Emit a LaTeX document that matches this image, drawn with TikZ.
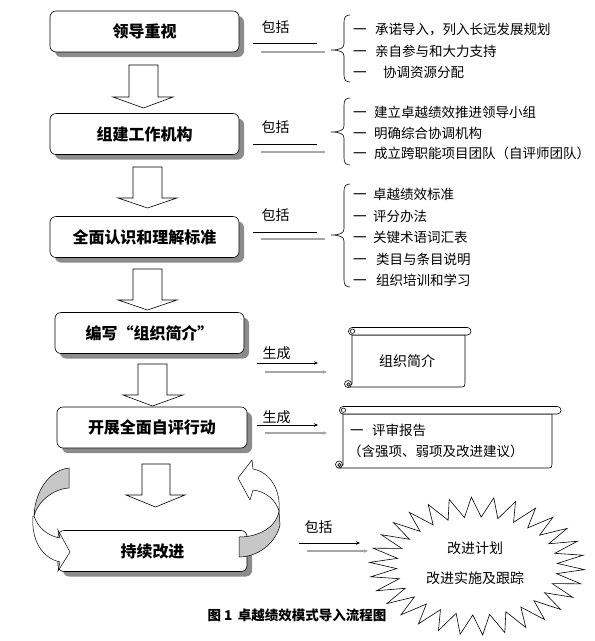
\documentclass[tikz,border=0pt]{standalone}
\usepackage{fontspec}
\newfontfamily\cjk{Noto Sans CJK SC}
\usetikzlibrary{shadows,arrows.meta}
\newcommand\bracepath[3]{%
  \draw[line width=0.6pt] (350,#1) .. controls (346,#1) and (344,#1+2) .. (344,#1+7)
    -- (344,#2-6) .. controls (344,#2-2) and (340,#2) .. (331,#2)
    .. controls (340,#2) and (344,#2+2) .. (344,#2+6)
    -- (344,#3-7) .. controls (344,#3-2) and (346,#3) .. (350,#3);}
\begin{document}
\begin{tikzpicture}[x=1pt,y=-1pt,
  stage/.style={draw=black, fill=white, rounded corners=6pt, minimum width=189pt,
    minimum height=41pt, inner sep=0pt, line width=0.6pt,
    font=\cjk\bfseries\fontsize{16}{16}\selectfont,
    drop shadow={shadow xshift=5pt, shadow yshift=-5pt, fill=black!45, opacity=1}},
  item/.style={anchor=west, inner sep=0pt, font=\cjk\fontsize{13.5}{14}\selectfont},
  lab/.style={inner sep=0pt, font=\cjk\fontsize{14}{14}\selectfont},
  blk/.style={draw=black, line width=0.6pt},
  gry/.style={draw=black!35, line width=1.1pt},
  arr/.style={-{Stealth[length=4pt,width=3.5pt]}},
  bigarrow/.style={draw=black, fill=white, line width=0.6pt, line join=miter},
  scrollline/.style={draw=black, line width=0.6pt},
  ]
\useasboundingbox (0,0) rectangle (595,641);

% ---- stage boxes ----
\node[stage] (s1) at (144.5,31.5) {领导重视};
\node[stage] (s2) at (144.5,134) {组建工作机构};
\node[stage] (s3) at (144.5,237) {全面认识和理解标准};
\node[stage] (s4) at (149.5,333) {编写“组织简介”};
\node[stage, minimum width=190pt] (s5) at (152,427.5) {开展全面自评行动};
\node[stage] (s6) at (152.5,551) {持续改进};

% ---- block arrows ----
\draw[bigarrow] (129,65) -- (158,65) -- (158,97) -- (173,97) -- (143.5,108) -- (113,97) -- (129,97) -- cycle;
\draw[bigarrow] (133,167) -- (162,167) -- (162,198) -- (177,198) -- (147.5,208) -- (118,198) -- (133,198) -- cycle;
\draw[bigarrow] (133,269) -- (162,269) -- (162,300) -- (177,300) -- (147.5,310) -- (118,300) -- (133,300) -- cycle;
\draw[bigarrow] (138,364) -- (167,364) -- (167,395) -- (183,395) -- (152.5,406) -- (123,395) -- (138,395) -- cycle;
\draw[bigarrow] (142,464) -- (170,464) -- (170,495) -- (185,495) -- (155.5,507) -- (126,495) -- (142,495) -- cycle;

% ---- curved arrows around the last box ----
\draw[fill=black!22, line width=0.5pt] (69,468) .. controls (50,470) and (35,490) .. (34,516)
   .. controls (37,503) and (52,489) .. (69,488) -- cycle;
\draw[fill=white, line width=0.5pt] (34,516) .. controls (38,528) and (48,536) .. (60,538)
   -- (58,530) -- (70,552) -- (58,571) -- (60,562)
   .. controls (42,558) and (31,540) .. (33,516) -- cycle;
\draw[fill=black!22, line width=0.5pt] (239,537) .. controls (258,537) and (276,528) .. (279,511)
   -- (280,525) .. controls (276,543) and (258,557) .. (239,557) -- cycle;
\draw[fill=white, line width=0.5pt] (279,511) .. controls (281,490) and (270,472) .. (253,469)
   -- (252,460) -- (238,478) -- (250,500) -- (253,490)
   .. controls (265,491) and (276,500) .. (279,511) -- cycle;

% ---- group 1 ----
\node[lab] (l1) at (275.5,27) {包括};
\draw[blk] (253,43) -- (317,43);
\draw[gry] (261,52) -- (325,52);
\bracepath{15}{50}{82}
\node[item] (i11) at (353,30) {\makebox[22pt][l]{一}承诺导入，列入长远发展规划};
\node[item] (i12) at (353,51) {\makebox[22pt][l]{一}亲自参与和大力支持};
\node[item] (i13) at (353,72) {\makebox[30pt][l]{一}协调资源分配};

% ---- group 2 ----
\node[lab] (l2) at (275.5,127) {包括};
\draw[blk] (253,144) -- (317,144);
\draw[gry] (261,152) -- (325,152);
\bracepath{98}{132}{165}
\node[item] (i21) at (353,112) {\makebox[21pt][l]{一}建立卓越绩效推进领导小组};
\node[item] (i22) at (353,133) {\makebox[21pt][l]{一}明确综合协调机构};
\node[item] (i23) at (353,153) {\makebox[21pt][l]{一}成立跨职能项目团队（自评师团队）};

% ---- group 3 ----
\node[lab] (l3) at (275.5,215) {包括};
\draw[blk] (253,232) -- (317,232);
\draw[gry] (261,239) -- (325,239);
\bracepath{184}{235}{287}
\node[item] (i31) at (353,194) {\makebox[20pt][l]{一}卓越绩效标准};
\node[item] (i32) at (353,216) {\makebox[20pt][l]{一}评分办法};
\node[item] (i33) at (353,237) {\makebox[20pt][l]{一}关键术语词汇表};
\node[item] (i34) at (353,259) {\makebox[23pt][l]{一}类目与条目说明};
\node[item] (i35) at (353,280) {\makebox[23pt][l]{一}组织培训和学习};

% ---- group 4 : scroll 1 ----
\node[lab] (l4) at (276.5,353) {生成};
\draw[blk, arr] (257,363) -- (318,363);
\draw[gry, arr] (265,372) -- (327,372);
\draw[scrollline, fill=white] (352,335) -- (352,384) -- (348,387) -- (462,387)
   .. controls (464.5,387) and (465,386) .. (465,383) -- (465,335) -- cycle;
\draw[scrollline, fill=white, rounded corners=3.6pt] (348.5,327.5) rectangle (471,335);
\draw[scrollline] (352.5,331.2) circle[radius=2.2];
\draw[scrollline, fill=white] (348,384) circle[radius=3.5];
\draw[scrollline, fill=black!30] (348.5,384.5) circle[radius=1.8];
\node[lab] (sc1) at (407,361) {组织简介};

% ---- group 5 : scroll 2 ----
\node[lab] (l5) at (276.5,417) {生成};
\draw[blk, arr] (257,425) -- (318,425);
\draw[gry, arr] (265,433) -- (327,433);
\draw[scrollline, fill=white] (343,414) -- (343,465) -- (339,468) -- (549,468)
   .. controls (551.5,468) and (552,467) .. (552,464) -- (552,414) -- cycle;
\draw[scrollline, fill=white, rounded corners=3.6pt] (339.5,406.5) rectangle (561,414);
\draw[scrollline] (343.5,410.2) circle[radius=2.2];
\draw[scrollline, fill=white] (339,464.5) circle[radius=3.5];
\draw[scrollline, fill=black!30] (339.5,465) circle[radius=1.8];
\node[item] (sc2a) at (350,430) {\makebox[22pt][l]{一}评审报告};
\node[item] (sc2b) at (348,451) {（含强项、弱项及改进建议）};

% ---- group 6 : starburst ----
\node[lab] (l6) at (318.5,527) {包括};
\draw[blk, arr] (299,543) -- (360,543);
\draw[gry, arr] (307,551) -- (368,551);
\draw[line width=0.6pt, fill=white, line join=miter] plot[samples=61, domain=0:60, variable=\i]
   ({477+(94+13.5*cos(\i*180))*cos(\i*6+3)}, {566+(59+10*cos(\i*180))*sin(\i*6+3)}) -- cycle;
\node[lab] (b1) at (475,548) {改进计划};
\node[lab] (b2) at (475,578) {改进实施及跟踪};

% ---- caption ----
\node[inner sep=0pt, font=\cjk\bfseries\fontsize{13.5}{13.5}\selectfont] (cap) at (297,615) {图 1\hspace{0.4em}卓越绩效模式导入流程图};
\end{tikzpicture}
\end{document}
